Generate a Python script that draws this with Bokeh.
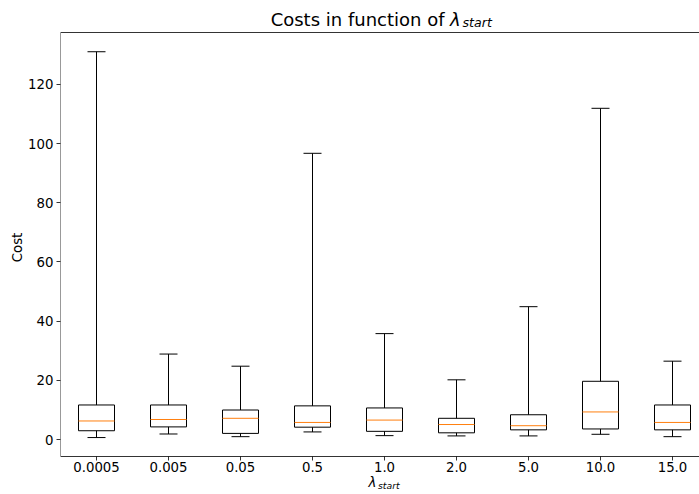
from bokeh.plotting import figure
from bokeh.models import Range1d, FixedTicker, Label
from bokeh.embed import file_html
from bokeh.resources import INLINE

# ---- data ----
categories = ["0.0005", "0.005", "0.05", "0.5", "1.0", "2.0", "5.0", "10.0", "15.0"]
lower  = [0.7, 1.9, 1.0, 2.6, 1.35, 1.25, 1.25, 1.8, 1.0]
q1     = [3.0, 4.3, 2.1, 4.2, 2.8, 2.3, 3.3, 3.6, 3.3]
median = [6.3, 6.8, 7.2, 5.8, 6.6, 5.1, 4.7, 9.35, 5.8]
q3     = [11.7, 11.7, 10.0, 11.4, 10.7, 7.2, 8.4, 19.7, 11.7]
upper  = [131.0, 28.9, 24.8, 96.7, 35.8, 20.2, 44.9, 111.9, 26.5]
y_ticks = [0, 20, 40, 60, 80, 100, 120]

# ---- layout (axes box: page x 60.., y 32..456) ----
FONT = "DejaVu Sans"
W, H = 699, 494
AX_L, AX_T, AX_B = 60, 32, 456
PX_PER_X = 72.0
AX_X0 = 0.5
AX_Y0, AX_Y1 = -5.7, 137.5
PPU_Y = (AX_B - AX_T) / (AX_Y1 - AX_Y0)

def xd(page_x):
    return AX_X0 + (page_x - AX_L) / PX_PER_X

def yd(page_y):
    return AX_Y1 - (page_y - AX_T) / PPU_Y

positions = list(range(1, len(categories) + 1))
BOX_W = 0.5
CAP_W = 0.25

p = figure(width=W, height=H, output_backend="svg", toolbar_location=None,
           x_range=Range1d(AX_X0, xd(W)), y_range=Range1d(yd(H), yd(0)),
           min_border_left=AX_L, min_border_right=0, min_border_top=0,
           min_border_bottom=0)
p.background_fill_color = "white"
p.border_fill_color = "white"
p.outline_line_color = None
p.xgrid.visible = False
p.ygrid.visible = False

# spines (left, top, bottom)
p.segment(x0=[AX_X0, AX_X0, AX_X0], y0=[AX_Y0, AX_Y1, AX_Y0],
          x1=[AX_X0, xd(W + 20), xd(W + 20)], y1=[AX_Y1, AX_Y1, AX_Y0],
          line_color="black", line_width=0.8)

# boxes
p.vbar(x=positions, width=BOX_W, bottom=q1, top=q3, fill_color=None,
       line_color="black", line_width=1)
# whiskers
p.segment(x0=positions, y0=q3, x1=positions, y1=upper, line_color="black", line_width=1)
p.segment(x0=positions, y0=q1, x1=positions, y1=lower, line_color="black", line_width=1)
# caps
cl = [x - CAP_W / 2 for x in positions]
cr = [x + CAP_W / 2 for x in positions]
p.segment(x0=cl, y0=upper, x1=cr, y1=upper, line_color="black", line_width=1)
p.segment(x0=cl, y0=lower, x1=cr, y1=lower, line_color="black", line_width=1)
# medians
ml = [x - BOX_W / 2 for x in positions]
mr = [x + BOX_W / 2 for x in positions]
p.segment(x0=ml, y0=median, x1=mr, y1=median, line_color="#ff7f0e", line_width=1)

# axes
for ax in (p.xaxis[0], p.yaxis[0]):
    ax.axis_line_color = None
    ax.major_tick_line_color = "black"
    ax.major_tick_line_width = 0.8
    ax.major_tick_out = 4
    ax.major_tick_in = 0
    ax.minor_tick_line_color = None
    ax.major_label_text_font = FONT
    ax.major_label_text_font_size = "13.3px"
    ax.major_label_text_color = "black"

p.xaxis.fixed_location = AX_Y0
p.xaxis.ticker = FixedTicker(ticks=positions)
p.xaxis.major_label_overrides = {pos: lab for pos, lab in zip(positions, categories)}
p.xaxis.major_label_standoff = 1
p.yaxis.ticker = FixedTicker(ticks=y_ticks)
p.yaxis.major_label_standoff = 3
p.yaxis.axis_label = "Cost"
p.yaxis.axis_label_text_font = FONT
p.yaxis.axis_label_text_font_size = "13.3px"
p.yaxis.axis_label_text_font_style = "normal"
p.yaxis.axis_label_text_color = "black"
p.yaxis.axis_label_standoff = 0

# title: "Costs in function of λ_start"
TY = 19
p.add_layout(Label(x=xd(444), y=yd(TY), text="Costs in function of", text_font=FONT,
                   text_font_size="18px", text_align="right", text_baseline="alphabetic",
                   text_color="black"))
p.add_layout(Label(x=xd(449.5), y=yd(TY), text="λ", text_font=FONT, text_font_style="italic",
                   text_font_size="18px", text_align="left", text_baseline="alphabetic",
                   text_color="black"))
p.add_layout(Label(x=xd(462), y=yd(TY + 3), text="start", text_font=FONT, text_font_style="italic",
                   text_font_size="12.6px", text_align="left", text_baseline="alphabetic",
                   text_color="black"))

# x axis label: λ_start
LY = 482
p.add_layout(Label(x=xd(368), y=yd(LY), text="λ", text_font=FONT, text_font_style="italic",
                   text_font_size="13.3px", text_align="left", text_baseline="alphabetic",
                   text_color="black"))
p.add_layout(Label(x=xd(377.5), y=yd(LY + 2.5), text="start", text_font=FONT, text_font_style="italic",
                   text_font_size="9.3px", text_align="left", text_baseline="alphabetic",
                   text_color="black"))

open("out.html", "w").write(file_html(p, INLINE))
